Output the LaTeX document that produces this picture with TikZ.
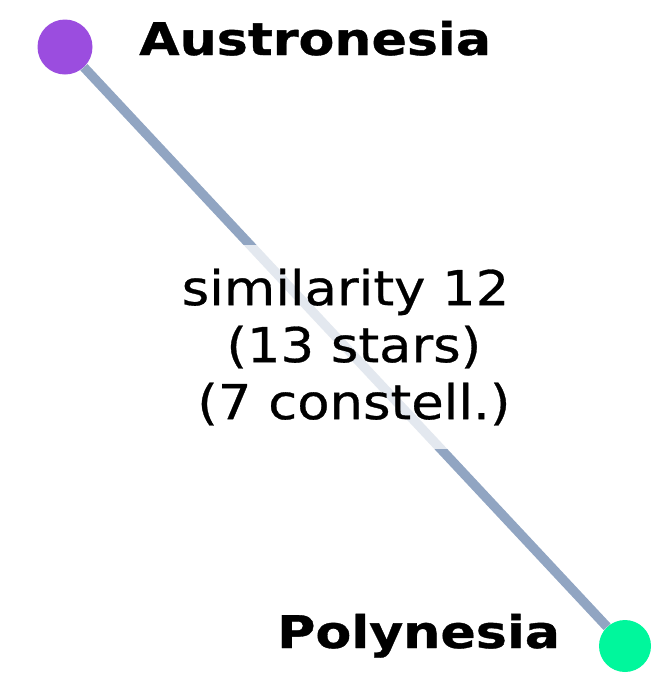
\documentclass[tikz,border=0pt]{standalone}
\usepackage{fontspec}
\setmainfont{DejaVu Sans}
\newfontfamily\edgefont[FakeStretch=1.1,FakeBold=0.6]{DejaVu Sans}
\newfontfamily\namefont[FakeStretch=1.16,FakeBold=0.8]{DejaVu Sans Bold}
\definecolor{purplenode}{HTML}{9B4DDF}
\definecolor{greennode}{HTML}{00F79C}
\definecolor{edgecol}{HTML}{91A5C2}
\tikzset{
  vertex/.style={circle, inner sep=0pt, minimum size=55pt},
  namelabel/.style={anchor=base west, inner sep=0pt, font=\namefont\fontsize{45}{50}\selectfont},
  edgeline/.style={draw=edgecol, line width=9.5pt},
  edgelabel/.style={fill=white, fill opacity=0.75, text opacity=1, align=center,
    inner xsep=20pt, inner ysep=24pt, font=\edgefont\fontsize{48}{57}\selectfont}
}
\begin{document}
\begin{tikzpicture}[x=1pt,y=-1pt]
\useasboundingbox (0,0) rectangle (651,675);
\node[vertex, fill=purplenode] (aus) at (65,47) {};
\node[vertex, fill=greennode, minimum size=52pt] (pol) at (625,646) {};
\node[namelabel] (ausname) at (139,55) {Austronesia};
\node[namelabel] (polname) at (277,648) {Polynesia};
\draw[edgeline] (aus) -- node[edgelabel] (sim) {similarity 12\\\ (13 stars)\\\ (7 constell.)} (pol);
\end{tikzpicture}
\end{document}
